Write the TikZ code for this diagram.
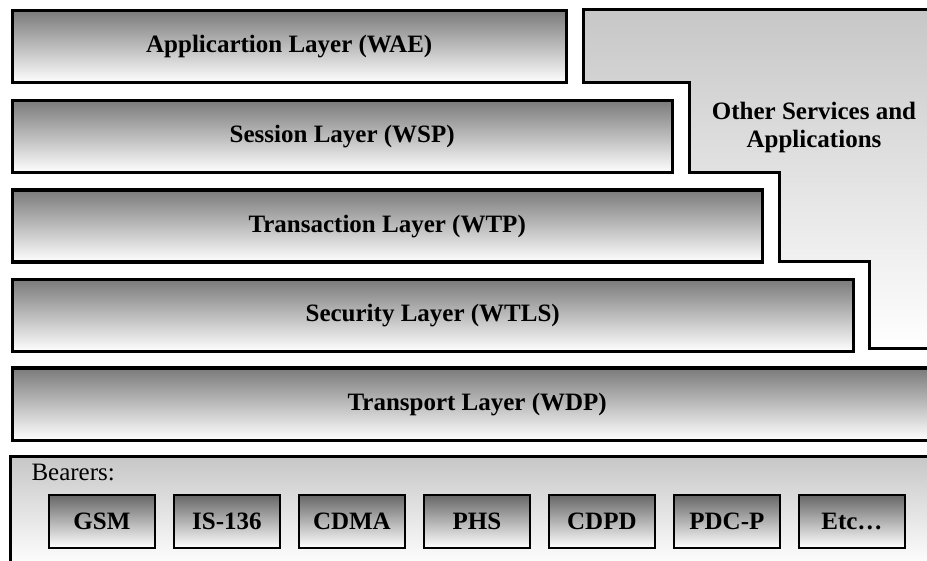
\documentclass[tikz,border=0pt]{standalone}
\usepackage{fontspec}
\setmainfont{Liberation Serif}
\usepackage{tikz}

\tikzset{
  layer/.style={draw=black, line width=3.4pt, top color=black!52, bottom color=white,
    anchor=north west, minimum height=72pt, inner sep=0pt,
    font=\bfseries\fontsize{25}{28}\selectfont},
  bearer/.style={draw=black, line width=2.8pt, top color=black!60, bottom color=white,
    anchor=north west, minimum width=106pt, minimum height=53pt, inner sep=0pt,
    font=\bfseries\fontsize{25}{28}\selectfont},
}

\begin{document}
\begin{tikzpicture}[x=1pt, y=-1pt]
    	\useasboundingbox (0,0) rectangle (927,561);
    	\clip (0,0) rectangle (927,561);
    	% Other services block (staircase):
    	\shade[top color=black!22, bottom color=white, draw=black, line width=3.4pt]
    		(583.5,9.5) -- (940,9.5) -- (940,348.5) -- (869.5,348.5) -- (869.5,261.5)
    		-- (779.5,261.5) -- (779.5,172.5) -- (689.5,172.5) -- (689.5,82.5)
    		-- (583.5,82.5) -- cycle;
    	\node[font=\bfseries\fontsize{25}{28}\selectfont, align=center] (other) at (814,127)
    		{Other Services and\\Applications};
    	% Protocol layers:
    	\node[layer, minimum width=554pt] (wae) at (10.5,9) {Applicartion Layer (WAE)};
    	\node[layer, minimum width=660pt] (wsp) at (10.5,99) {Session Layer (WSP)};
    	\node[layer, minimum width=750pt] (wtp) at (10.5,188.5) {Transaction Layer (WTP)};
    	\node[layer, minimum width=841pt] (wtls) at (10.5,278) {Security Layer (WTLS)};
    	\node[layer, minimum width=930pt] (wdp) at (10.5,366.5) {Transport Layer (WDP)};
    	% Bearers:
    	\shade[top color=black!22, bottom color=white, draw=black, line width=3.4pt]
    		(10.5,456.5) rectangle (940,566);
    	\node[anchor=base west, font=\fontsize{25}{28}\selectfont] (brs) at (28,480) {Bearers:};
    	\foreach \name [count=\i from 0] in {GSM, IS-136, CDMA, PHS, CDPD, PDC-P, Etc\ldots}
    		\node[bearer] (b\i) at (47.5+125*\i,493.5) {\name};
    \end{tikzpicture}
\end{document}
